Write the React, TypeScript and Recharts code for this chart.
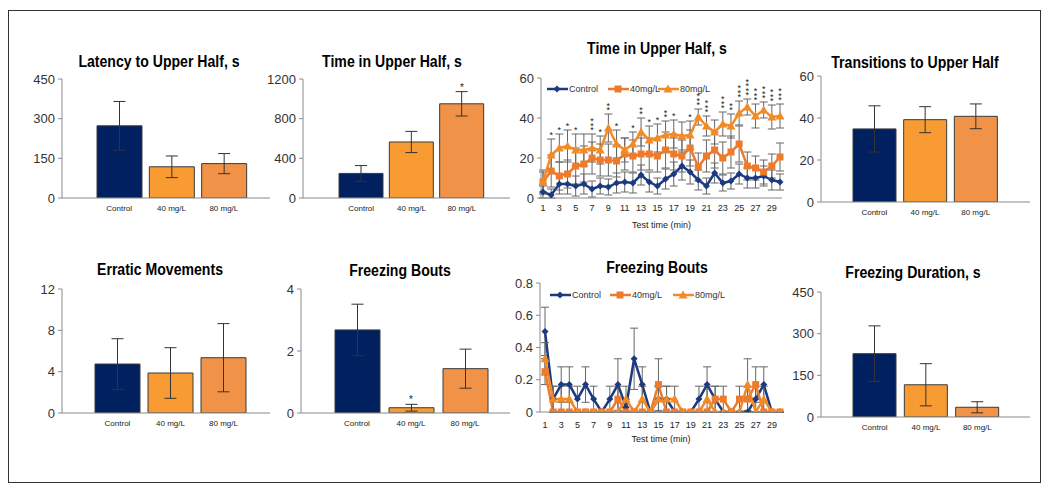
import React from "react";
import { ComposedChart, LineChart, Bar, Line, XAxis, YAxis, ErrorBar, Cell } from "recharts";

const groups = ["Control", "40 mg/L", "80 mg/L"];
const groupColors = ["#002060", "#F89B33", "#F09247"];

const latencyMean = [273, 118, 130];
const latencyErr = [92, 41, 38];
const upperTimeMean = [248, 565, 950];
const upperTimeErr = [79, 107, 123];
const upperTimeStars = [0, 0, 1];
const transitionsMean = [34.8, 39.2, 40.8];
const transitionsErr = [11, 6.2, 5.9];
const erraticMean = [4.74, 3.87, 5.35];
const erraticErr = [2.45, 2.45, 3.3];
const boutsMean = [2.68, 0.17, 1.43];
const boutsErr = [0.83, 0.11, 0.63];
const boutsStars = [0, 1, 0];
const durationMean = [228, 116, 35];
const durationErr = [100, 76, 20];

const minutes = ["1", "2", "3", "4", "5", "6", "7", "8", "9", "10", "11", "12", "13", "14", "15",
  "16", "17", "18", "19", "20", "21", "22", "23", "24", "25", "26", "27", "28", "29", "30"];

// time in upper half per minute
const upperControl = [3, 1.5, 7, 7, 6, 7, 4.5, 6, 5.5, 7.5, 8, 7.5, 11.5, 8, 6, 9.5, 12, 16, 13, 9, 6, 12.5, 7.5, 8.5, 12, 10, 10, 11, 9, 8];
const upperControlErr = [3, 3, 5, 5, 5, 5, 4, 4, 4, 5, 5, 5, 5, 5, 4, 5, 6, 7, 6, 5, 4, 5, 4, 4, 5, 5, 5, 5, 5, 4];
const upper40 = [8, 13.5, 11, 12, 16, 17, 20, 19, 19, 18.5, 22, 21, 22, 22, 21, 24, 22, 21, 25, 15.5, 21, 24, 20, 23, 27, 16, 15, 13, 16, 20.5];
const upper40Err = [5, 8, 7, 7, 9, 9, 8, 8, 8, 8, 8, 8, 8, 8, 8, 9, 8, 8, 9, 7, 8, 9, 8, 8, 9, 7, 6, 6, 6, 7];
const upper80 = [8, 21.5, 25, 26, 24, 24, 25, 24, 35, 27, 24, 27, 33, 29, 30, 31.5, 32, 31, 31.5, 40.5, 36, 33, 37, 36, 42.5, 45.5, 41, 44, 40.5, 41];
const upper80Err = [6, 8, 7, 8, 8, 8, 7, 7, 7, 7, 6, 6, 7, 7, 7, 7, 7, 7, 7, 4, 5, 6, 6, 6, 6, 4, 6, 4, 6, 6];
const upper80Stars = [0, 1, 1, 1, 1, 0, 3, 1, 2, 1, 0, 1, 2, 1, 1, 2, 1, 0, 1, 3, 3, 0, 3, 2, 3, 4, 3, 3, 3, 3];

// freezing bouts per minute
const boutsControl = [0.5, 0.08, 0.17, 0.17, 0.08, 0.17, 0.08, 0, 0.08, 0.17, 0.03, 0.33, 0.17, 0, 0.08, 0.08, 0, 0, 0, 0.08, 0.17, 0.08, 0, 0, 0, 0, 0.08, 0.17, 0, 0];
const boutsControlErr = [0.15, 0.08, 0.11, 0.11, 0.08, 0.11, 0.08, 0, 0.08, 0.16, 0.05, 0.19, 0.11, 0, 0.08, 0.08, 0, 0, 0, 0.08, 0.11, 0.08, 0, 0, 0, 0, 0.08, 0.11, 0, 0];
const bouts40 = [0.25, 0, 0, 0, 0, 0, 0, 0, 0, 0.08, 0, 0, 0, 0, 0.17, 0, 0, 0, 0, 0, 0, 0.08, 0.08, 0, 0.08, 0.08, 0.17, 0, 0, 0];
const bouts40Err = [0.08, 0, 0, 0, 0, 0, 0, 0, 0, 0.08, 0, 0, 0, 0, 0.16, 0, 0, 0, 0, 0, 0, 0.08, 0.08, 0, 0.08, 0.08, 0.11, 0, 0, 0];
const bouts80 = [0.33, 0.08, 0.08, 0.08, 0, 0, 0, 0, 0, 0, 0.08, 0, 0.08, 0, 0.08, 0.08, 0.08, 0, 0, 0, 0.08, 0, 0, 0, 0, 0.17, 0, 0.08, 0, 0];
const bouts80Err = [0.1, 0.08, 0.08, 0.08, 0, 0, 0, 0, 0, 0, 0.08, 0, 0.08, 0, 0.08, 0.08, 0.08, 0, 0, 0, 0.08, 0, 0, 0, 0, 0.16, 0, 0.08, 0, 0];

const lineColors = { control: "#1C3A80", f40: "#EE7B2C", f80: "#F28A26" };
const AXIS_FONT = "'Liberation Sans', Arial, sans-serif";
const TITLE_FONT = "'Liberation Sans', Arial, sans-serif";
const YW = 45;
const MT = 10;

const Title = ({ text, x, y }: { text: string; x: number; y: number }) => (
  <div
    style={{
      position: "absolute", left: x, top: y, transform: "translate(-50%, -50%) scaleX(0.88)",
      fontFamily: TITLE_FONT, fontWeight: "bold", fontSize: 16, color: "#000", whiteSpace: "nowrap",
    }}
  >
    {text}
  </div>
);

// a stack of asterisks drawn as one text element, just above the error bar cap
const starDot = (step: number, size: number) => (props: any) => {
  const { cx, cy, payload, index } = props;
  const n = payload?.stars || 0;
  if (!n || cx == null || cy == null) return <g key={`s-${index}`} />;
  return (
    <text key={`s-${index}`} x={cx} y={cy - 1 + step} textAnchor="middle" fontSize={size} fill="#222" fontFamily={AXIS_FONT}>
      {Array.from({ length: n }).map((_, i) => (
        <tspan key={i} x={cx} dy={-step}>*</tspan>
      ))}
    </text>
  );
};

type BarPanelProps = {
  title: string; titleX: number; titleY: number;
  x0: number; x1: number; yTop: number; yBot: number;
  mean: number[]; err: number[]; stars?: number[];
  max: number; ticks: number[]; padL: number; padR: number; barSize: number;
};

const BarPanel = (p: BarPanelProps) => {
  const data = groups.map((g, i) => ({
    group: g, mean: p.mean[i], err: p.err[i],
    starTop: p.mean[i] + p.err[i], stars: p.stars ? p.stars[i] : 0,
  }));
  const width = p.x1 - p.x0 + YW + 2;
  const height = p.yBot - p.yTop + MT + 22;
  return (
    <>
      <Title text={p.title} x={p.titleX} y={p.titleY} />
      <div style={{ position: "absolute", left: p.x0 - YW, top: p.yTop - MT }}>
        <ComposedChart width={width} height={height} data={data} margin={{ top: MT, right: 2, left: 0, bottom: 0 }}>
          <XAxis
            dataKey="group" height={22} padding={{ left: p.padL, right: p.padR }}
            tickLine={false} tickSize={4} tickMargin={3} interval={0}
            axisLine={{ stroke: "#8a8a8a" }}
            tick={{ fontSize: 8, fill: "#222", fontFamily: AXIS_FONT }}
          />
          <YAxis
            width={YW} domain={[0, p.max]} ticks={p.ticks} interval={0} allowDataOverflow
            tickSize={4} tickMargin={3} axisLine={{ stroke: "#8a8a8a" }} tickLine={{ stroke: "#8a8a8a" }}
            tick={{ fontSize: 13, fill: "#333", fontFamily: AXIS_FONT }}
          />
          <Bar dataKey="mean" barSize={p.barSize} stroke="#3a3a3a" strokeWidth={1} isAnimationActive={false}>
            {data.map((d, i) => (
              <Cell key={d.group} fill={groupColors[i]} />
            ))}
            <ErrorBar dataKey="err" width={6} stroke="#333" strokeWidth={1} />
          </Bar>
          {p.stars && (
            <Line dataKey="starTop" stroke="none" dot={starDot(5, 10)} activeDot={false} isAnimationActive={false} />
          )}
        </ComposedChart>
      </div>
    </>
  );
};

const Diamond = (props: any) => {
  const { cx, cy, index, color } = props;
  if (cx == null || cy == null) return <g key={`d-${index}`} />;
  const r = 3.5;
  return <path key={`d-${index}`} d={`M${cx},${cy - r}L${cx + r},${cy}L${cx},${cy + r}L${cx - r},${cy}Z`} fill={color} />;
};
const Square = (props: any) => {
  const { cx, cy, index, color } = props;
  if (cx == null || cy == null) return <g key={`q-${index}`} />;
  return <rect key={`q-${index}`} x={cx - 3.5} y={cy - 3.5} width={7} height={7} fill={color} />;
};
const Triangle = (props: any) => {
  const { cx, cy, index, color } = props;
  if (cx == null || cy == null) return <g key={`t-${index}`} />;
  return <path key={`t-${index}`} d={`M${cx},${cy - 4.5}L${cx + 4.5},${cy + 3.5}L${cx - 4.5},${cy + 3.5}Z`} fill={color} />;
};

type LegendItem = { label: string; at: number; color: string; shape: string };

const LegendRow = ({ y, items }: { y: number; items: LegendItem[] }) => {
  const left = items[0].at - 4;
  return (
    <svg style={{ position: "absolute", left, top: y - 7 }} width={200} height={14}>
      {items.map((it) => {
        const x = it.at - left;
        const cx = x + 10;
        return (
          <g key={it.label}>
            <line x1={x} x2={x + 21} y1={7} y2={7} stroke={it.color} strokeWidth={2.5} />
            {it.shape === "diamond" && <path d={`M${cx},3.5L${cx + 3.5},7L${cx},10.5L${cx - 3.5},7Z`} fill={it.color} />}
            {it.shape === "square" && <rect x={cx - 3.5} y={3.5} width={7} height={7} fill={it.color} />}
            {it.shape === "triangle" && <path d={`M${cx},2.5L${cx + 4.5},10.5L${cx - 4.5},10.5Z`} fill={it.color} />}
            <text x={x + 22} y={10} fontSize={9} fill="#333" fontFamily={AXIS_FONT}>{it.label}</text>
          </g>
        );
      })}
    </svg>
  );
};

type LinePanelProps = {
  title: string; titleX: number; titleY: number;
  x0: number; x1: number; yTop: number; yBot: number;
  c: number[]; cErr: number[]; a: number[]; aErr: number[]; b: number[]; bErr: number[];
  stars?: number[]; max: number; ticks: number[]; padL: number; padR: number;
  tickGap: number; legendY: number; legendAt: number[];
};

const LinePanel = (p: LinePanelProps) => {
  const data = minutes.map((m, i) => ({
    min: m,
    c: p.c[i], cE: [Math.min(p.cErr[i], p.c[i]), p.cErr[i]],
    a: p.a[i], aE: [Math.min(p.aErr[i], p.a[i]), p.aErr[i]],
    b: p.b[i], bE: [Math.min(p.bErr[i], p.b[i]), p.bErr[i]],
    starTop: p.b[i] + p.bErr[i], stars: p.stars ? p.stars[i] : 0,
  }));
  const width = p.x1 - p.x0 + YW + 2;
  const height = p.yBot - p.yTop + MT + 34;
  return (
    <>
      <Title text={p.title} x={p.titleX} y={p.titleY} />
      <div style={{ position: "absolute", left: p.x0 - YW, top: p.yTop - MT }}>
        <LineChart width={width} height={height} data={data} margin={{ top: MT, right: 2, left: 0, bottom: 0 }}>
          <XAxis
            dataKey="min" height={34} padding={{ left: p.padL, right: p.padR }} interval={1}
            tickLine={false} tickSize={2} tickMargin={p.tickGap} axisLine={{ stroke: "#8a8a8a" }}
            tick={{ fontSize: 9, fill: "#222", fontFamily: AXIS_FONT }}
            label={{ value: "Test time (min)", position: "insideBottom", offset: 4, fontSize: 9, fill: "#222", fontFamily: AXIS_FONT }}
          />
          <YAxis
            width={YW} domain={[0, p.max]} ticks={p.ticks} interval={0} allowDataOverflow
            tickSize={4} tickMargin={3} axisLine={{ stroke: "#8a8a8a" }} tickLine={{ stroke: "#8a8a8a" }}
            tick={{ fontSize: 13, fill: "#333", fontFamily: AXIS_FONT }}
          />
          <Line dataKey="c" stroke={lineColors.control} strokeWidth={2.5} isAnimationActive={false}
            dot={(d: any) => <Diamond {...d} color={lineColors.control} />} activeDot={false}>
            <ErrorBar dataKey="cE" width={4} stroke="#666" strokeWidth={1} />
          </Line>
          <Line dataKey="a" stroke={lineColors.f40} strokeWidth={2.5} isAnimationActive={false}
            dot={(d: any) => <Square {...d} color={lineColors.f40} />} activeDot={false}>
            <ErrorBar dataKey="aE" width={4} stroke="#666" strokeWidth={1} />
          </Line>
          <Line dataKey="b" stroke={lineColors.f80} strokeWidth={2.5} isAnimationActive={false}
            dot={(d: any) => <Triangle {...d} color={lineColors.f80} />} activeDot={false}>
            <ErrorBar dataKey="bE" width={4} stroke="#666" strokeWidth={1} />
          </Line>
          {p.stars && (
            <Line dataKey="starTop" stroke="none" dot={starDot(4.5, 9)} activeDot={false} isAnimationActive={false} />
          )}
        </LineChart>
      </div>
      <LegendRow
        y={p.legendY}
        items={[
          { label: "Control", at: p.legendAt[0], color: lineColors.control, shape: "diamond" },
          { label: "40mg/L", at: p.legendAt[1], color: lineColors.f40, shape: "square" },
          { label: "80mg/L", at: p.legendAt[2], color: lineColors.f80, shape: "triangle" },
        ]}
      />
    </>
  );
};

export default function App() {
  return (
    <div style={{ position: "absolute", left: 0, top: 0, width: 1050, height: 492, background: "#fff", overflow: "hidden" }}>
      <div style={{ position: "absolute", left: 8, top: 10, width: 1031, height: 471, border: "1.5px solid #333" }} />

      <BarPanel title="Latency to Upper Half, s" titleX={159} titleY={62} x0={62} x1={270} yTop={79} yBot={198}
        mean={latencyMean} err={latencyErr} max={450} ticks={[0, 150, 300, 450]} padL={31} padR={20} barSize={45} />
      <BarPanel title="Time in Upper Half, s" titleX={392} titleY={62} x0={303} x1={510} yTop={79} yBot={198}
        mean={upperTimeMean} err={upperTimeErr} stars={upperTimeStars} max={1200} ticks={[0, 400, 800, 1200]}
        padL={33} padR={23} barSize={44} />
      <LinePanel title="Time in Upper Half, s" titleX={657} titleY={49} x0={541} x1={782} yTop={78} yBot={198}
        c={upperControl} cErr={upperControlErr} a={upper40} aErr={upper40Err} b={upper80} bErr={upper80Err}
        stars={upper80Stars} max={60} ticks={[0, 20, 40, 60]} padL={2} padR={2} tickGap={5}
        legendY={89} legendAt={[547, 608, 658]} />
      <BarPanel title="Transitions to Upper Half" titleX={915} titleY={63} x0={821} x1={1030} yTop={76} yBot={202}
        mean={transitionsMean} err={transitionsErr} max={60} ticks={[0, 20, 40, 60]} padL={28} padR={29} barSize={43} />

      <BarPanel title="Erratic Movements" titleX={160} titleY={270} x0={62} x1={270} yTop={289} yBot={413}
        mean={erraticMean} err={erraticErr} max={12} ticks={[0, 4, 8, 12]} padL={29} padR={20} barSize={45} />
      <BarPanel title="Freezing Bouts" titleX={400} titleY={271} x0={301} x1={510} yTop={289} yBot={413}
        mean={boutsMean} err={boutsErr} stars={boutsStars} max={4} ticks={[0, 2, 4]} padL={29} padR={18} barSize={45} />
      <LinePanel title="Freezing Bouts" titleX={657} titleY={268} x0={540} x1={782} yTop={283} yBot={412}
        c={boutsControl} cErr={boutsControlErr} a={bouts40} aErr={bouts40Err} b={bouts80} bErr={bouts80Err}
        max={0.8} ticks={[0, 0.2, 0.4, 0.6, 0.8]} padL={5} padR={2} tickGap={8}
        legendY={295} legendAt={[550, 610, 673]} />
      <BarPanel title="Freezing Duration, s" titleX={913} titleY={273} x0={821} x1={1030} yTop={292} yBot={417}
        mean={durationMean} err={durationErr} max={450} ticks={[0, 150, 300, 450]} padL={28} padR={27} barSize={43} />
    </div>
  );
}
